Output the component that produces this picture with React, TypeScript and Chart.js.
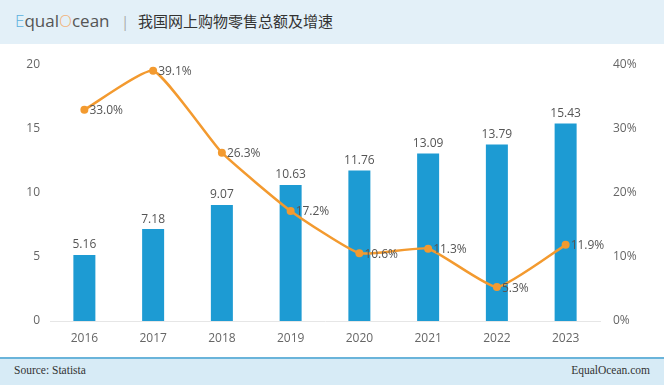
import React, { useEffect, useRef } from "react";
import { Chart, registerables } from "chart.js";

Chart.register(...registerables);

const years = ["2016", "2017", "2018", "2019", "2020", "2021", "2022", "2023"];
const salesTrillion = [5.16, 7.18, 9.07, 10.63, 11.76, 13.09, 13.79, 15.43];
const growthPct = [33.0, 39.1, 26.3, 17.2, 10.6, 11.3, 5.3, 11.9];
const leftTicks = [0, 5, 10, 15, 20];
const rightTicks = [0, 10, 20, 30, 40];

const FONT = "'Open Sans', 'Noto Sans', sans-serif";

const labelPlugin = {
  id: "valueLabels",
  afterDatasetsDraw(chart: any) {
    const ctx = chart.ctx;
    ctx.save();
    ctx.font = `12px ${FONT}`;
    ctx.fillStyle = "#555";
    const barMeta = chart.getDatasetMeta(1);
    barMeta.data.forEach((el: any, i: number) => {
      ctx.textAlign = "center";
      ctx.textBaseline = "bottom";
      ctx.fillText(salesTrillion[i].toFixed(2), el.x, el.y - 4);
    });
    const lineMeta = chart.getDatasetMeta(0);
    lineMeta.data.forEach((el: any, i: number) => {
      ctx.textAlign = "left";
      ctx.textBaseline = "middle";
      ctx.fillText(growthPct[i].toFixed(1) + "%", el.x + 5, el.y + 1);
    });
    ctx.restore();
  },
};

export default function App() {
  const ref = useRef<HTMLCanvasElement>(null);
  useEffect(() => {
    document.body.style.margin = "0";
    const chart = new Chart(ref.current!, {
      type: "bar",
      data: {
        labels: years,
        datasets: [
          {
            type: "line",
            data: growthPct,
            yAxisID: "y1",
            borderColor: "#f39a2f",
            backgroundColor: "#f39a2f",
            borderWidth: 2.5,
            pointRadius: 4,
            pointBackgroundColor: "#f39a2f",
            pointBorderWidth: 0,
            tension: 0.15,
            order: 0,
          } as any,
          {
            type: "bar",
            data: salesTrillion,
            yAxisID: "y",
            backgroundColor: "#1d9bd3",
            barPercentage: 0.64,
            categoryPercentage: 0.5,
            order: 1,
          },
        ],
      },
      options: {
        animation: false,
        responsive: false,
        maintainAspectRatio: false,
        layout: { padding: { top: 65, left: 0, right: 0, bottom: 0 } },
        plugins: { legend: { display: false }, tooltip: { enabled: false } },
        scales: {
          x: {
            grid: { display: false, drawTicks: false },
            border: { display: true, color: "#e6e6e6", width: 1 },
            ticks: { color: "#666", font: { size: 12, family: FONT }, padding: 10 },
            afterFit: (s: any) => {
              s.height = 66;
            },
          },
          y: {
            position: "left",
            min: 0,
            max: 20,
            afterBuildTicks: (s: any) => {
              s.ticks = leftTicks.map((v) => ({ value: v }));
            },
            grid: { display: false, drawTicks: false },
            border: { display: false },
            ticks: { color: "#666", font: { size: 12, family: FONT }, padding: 10 },
            afterFit: (s: any) => {
              s.width = 50;
            },
          },
          y1: {
            position: "right",
            min: 0,
            max: 40,
            afterBuildTicks: (s: any) => {
              s.ticks = rightTicks.map((v) => ({ value: v }));
            },
            grid: { display: false, drawTicks: false },
            border: { display: false },
            ticks: {
              color: "#666",
              font: { size: 12, family: FONT },
              padding: 13,
              callback: (v: any) => v + "%",
            },
            afterFit: (s: any) => {
              s.width = 64;
            },
          },
        },
      },
      plugins: [labelPlugin],
    });
    return () => chart.destroy();
  }, []);

  return (
    <div style={{ position: "absolute", left: 0, top: 0, width: 664, height: 387, background: "#fff", overflow: "hidden" }}>
      <canvas ref={ref} width={664} height={387} style={{ position: "absolute", left: 0, top: 0 }} />
      <div
        style={{
          position: "absolute",
          left: 0,
          top: 0,
          width: 664,
          height: 44,
          background: "#e3f0f8",
          fontFamily: FONT,
        }}
      >
        <span style={{ position: "absolute", left: 15, top: 9, fontSize: 17, color: "#555", lineHeight: "24px" }}>
          <span style={{ color: "#5ab0de", fontWeight: 300 }}>E</span>qual
          <span style={{ color: "#f2b27a", fontWeight: 300 }}>O</span>cean
        </span>
        <span style={{ position: "absolute", left: 121, top: 10, color: "#aaa", fontSize: 15, lineHeight: "22px" }}>|</span>
        <span
          style={{
            position: "absolute",
            left: 138,
            top: 9,
            fontSize: 15,
            lineHeight: "24px",
            color: "#333",
            fontFamily: "'Noto Sans CJK SC', sans-serif",
          }}
        >
          我国网上购物零售总额及增速
        </span>
      </div>
      <div style={{ position: "absolute", left: 0, top: 357, width: 664, height: 2, background: "#6ab4da" }} />
      <div
        style={{
          position: "absolute",
          left: 0,
          top: 359,
          width: 664,
          height: 26,
          background: "#d7ebf6",
          fontFamily: "'Liberation Serif', 'DejaVu Serif', serif",
          fontSize: 11.5,
          color: "#333",
        }}
      >
        <span style={{ position: "absolute", left: 14, top: 5 }}>Source: Statista</span>
        <span style={{ position: "absolute", right: 14, top: 5 }}>EqualOcean.com</span>
      </div>
    </div>
  );
}
